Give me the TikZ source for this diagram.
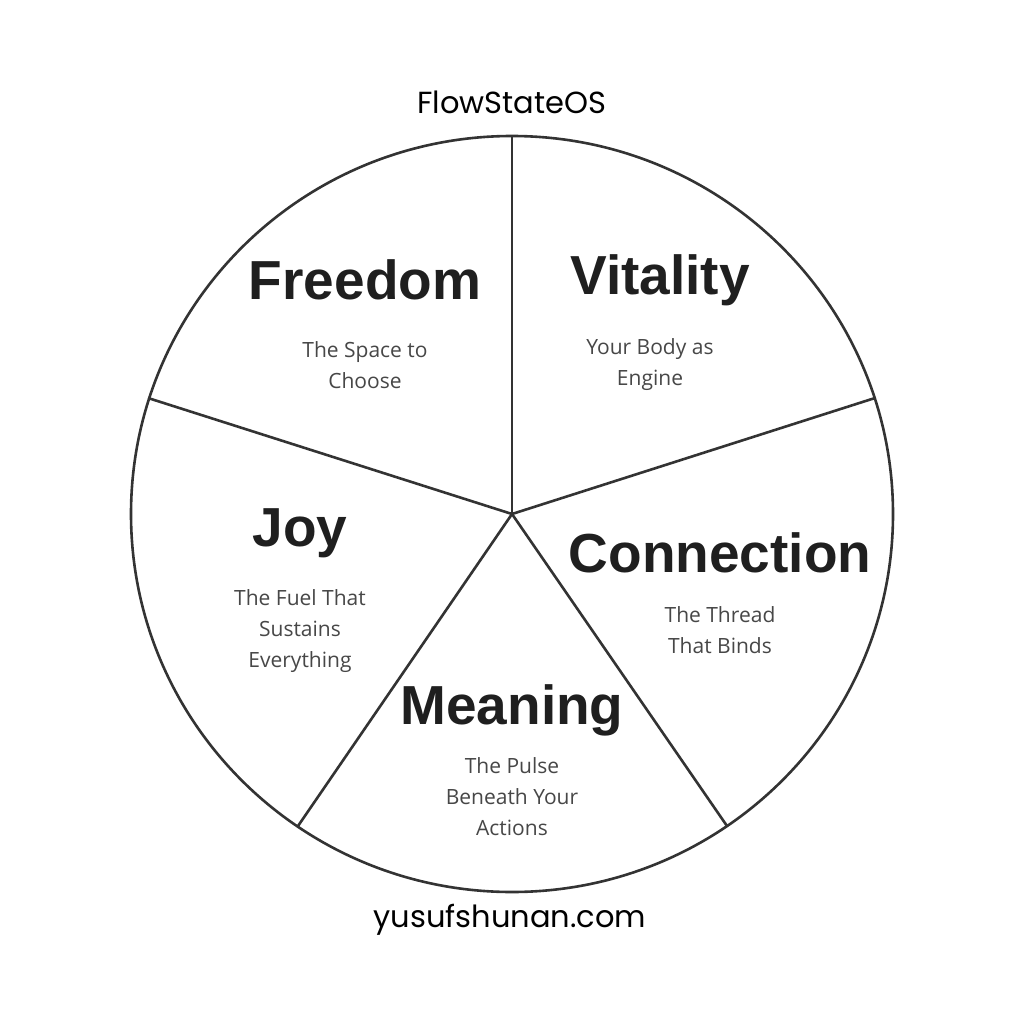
\documentclass[tikz,border=0pt]{standalone}
\usepackage{fontspec}
\setmainfont{Open Sans}
\newfontfamily\titlef{Poppins}
\newfontfamily\headf{Liberation Sans}
\begin{document}
\begin{tikzpicture}[x=1pt,y=-1pt,
  head/.style={font=\headf\bfseries\fontsize{55}{58}\selectfont,text=black!88},
  sub/.style={font=\fontsize{21}{31}\selectfont,text=black!72,align=center},
  ttl/.style={font=\titlef\fontsize{30.5}{32}\selectfont,text=black}]
\useasboundingbox (0,0) rectangle (1024,1024);
\fill[white] (0,0) rectangle (1024,1024);
\coordinate (c) at (512,514);
\draw[line width=2.6pt,black!80] (c) circle[x radius=381,y radius=378];
\foreach \p [count=\i] in {(512,136),(875,398),(727,826),(298,826),(148,398)}
  \draw[line width=2.6pt,black!80] (c) -- \p coordinate (e\i);
\node[ttl] (t) at (512,102) {FlowStateOS};
\node[ttl] (f) at (510,920) {yusufshunan.com};
\node[head] (h1) at (365,280) {Freedom};
\node[sub] (s1) at (365,365) {The Space to\\Choose};
\node[head] (h2) at (660,280) {Vitality};
\node[sub] (s2) at (650,365) {Your Body as\\Engine};
\node[head] (h3) at (300,533) {Joy};
\node[sub] (s3) at (300,631) {The Fuel That\\Sustains\\Everything};
\node[head] (h4) at (720,553) {Connection};
\node[sub] (s4) at (720,630) {The Thread\\That Binds};
\node[head] (h5) at (512,710) {Meaning};
\node[sub] (s5) at (512,797) {The Pulse\\Beneath Your\\Actions};
\end{tikzpicture}
\end{document}
